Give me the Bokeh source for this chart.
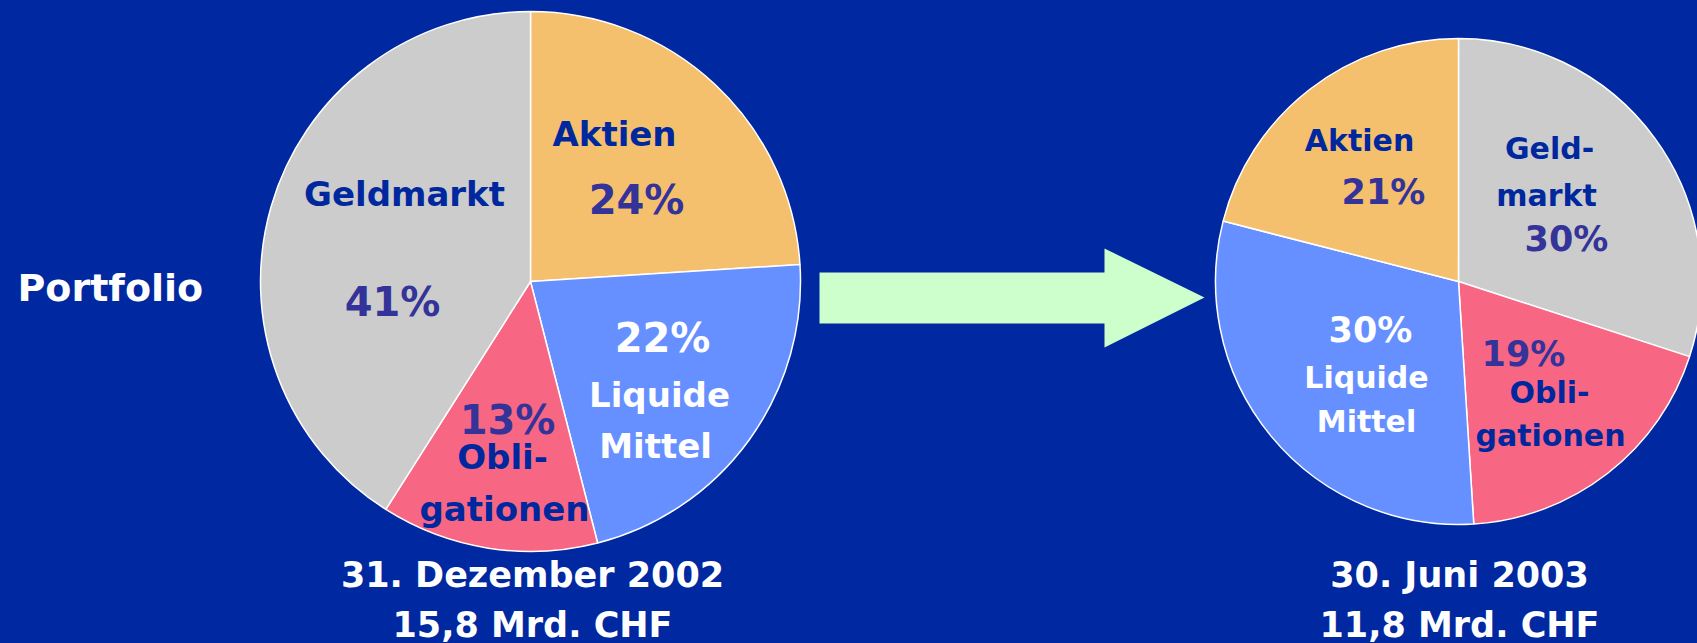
import math
from bokeh.plotting import figure
from bokeh.models import ColumnDataSource, Range1d
from bokeh.core.properties import value
from bokeh.embed import file_html
from bokeh.resources import INLINE

# ---------------- data ----------------
left_categories = ["Aktien", "Liquide Mittel", "Obligationen", "Geldmarkt"]
left_values = [24, 22, 13, 41]
left_title = ["31. Dezember 2002", "15,8 Mrd. CHF"]

right_categories = ["Geldmarkt", "Obligationen", "Liquide Mittel", "Aktien"]
right_values = [30, 19, 30, 21]
right_title = ["30. Juni 2003", "11,8 Mrd. CHF"]

row_label = "Portfolio"

# ---------------- styles ----------------
BG = "#0028A0"
CAT_COLORS = {"Aktien": "#F5C06E", "Geldmarkt": "#CCCCCC",
              "Liquide Mittel": "#6690FF", "Obligationen": "#F76683"}
NAME_COLOR = {"Aktien": "#00289E", "Geldmarkt": "#00289E",
              "Liquide Mittel": "#FFFFFF", "Obligationen": "#00289E"}
PCT_COLOR = {"Aktien": "#333399", "Geldmarkt": "#333399",
             "Liquide Mittel": "#FFFFFF", "Obligationen": "#333399"}
FONT = value("DejaVu Sans")

# pie geometry (page pixels)
LEFT_PIE = dict(cx=530, cy=281, r=270, name_size="34px", pct_size="40px")
RIGHT_PIE = dict(cx=1458, cy=281, r=243, name_size="30px", pct_size="35px")

# label layout: category -> list of (line text or None for percentage, dx, dy)
LEFT_LAYOUT = {
    "Aktien": [("Aktien", 84, -148), (None, 106, -82)],
    "Geldmarkt": [("Geldmarkt", -126, -88), (None, -138, 20)],
    "Liquide Mittel": [(None, 132, 56), ("Liquide", 129, 113), ("Mittel", 125, 164)],
    "Obligationen": [(None, -23, 138), ("Obli-", -28, 175), ("gationen", -26, 227)],
}
RIGHT_LAYOUT = {
    "Aktien": [("Aktien", -99, -141), (None, -75, -90)],
    "Geldmarkt": [("Geld-", 91, -133), ("markt", 88, -86), (None, 108, -43)],
    "Liquide Mittel": [(None, -88, 48), ("Liquide", -92, 96), ("Mittel", -92, 140)],
    "Obligationen": [(None, 65, 72), ("Obli-", 91, 111), ("gationen", 92, 154)],
}

W, H = 1697, 643
p = figure(width=W, height=H, x_range=Range1d(0, W), y_range=Range1d(H, 0),
           output_backend="svg", toolbar_location=None, min_border=0,
           background_fill_color=BG, border_fill_color=BG, outline_line_color=None)
p.axis.visible = False
p.grid.visible = False
p.styles = {"background-color": BG}

texts = dict(x=[], y=[], text=[], color=[], size=[])


def add_text(x, y, t, c, s):
    texts["x"].append(x)
    texts["y"].append(y)
    texts["text"].append(t)
    texts["color"].append(c)
    texts["size"].append(s)


def draw_pie(cats, vals, geo, layout):
    total = float(sum(vals))
    starts, ends = [], []
    cum = 0.0
    for v in vals:
        a0 = math.pi / 2 - 2 * math.pi * cum / total
        cum += v
        a1 = math.pi / 2 - 2 * math.pi * cum / total
        starts.append(a0)
        ends.append(a1)
    src = ColumnDataSource(dict(
        x=[geo["cx"]] * len(vals), y=[geo["cy"]] * len(vals),
        start=starts, end=ends, color=[CAT_COLORS[c] for c in cats]))
    p.wedge(x="x", y="y", radius=geo["r"], start_angle="start", end_angle="end",
            direction="clock", fill_color="color", line_color="white",
            line_width=1.5, source=src)
    for c, v in zip(cats, vals):
        for line, dx, dy in layout[c]:
            if line is None:
                add_text(geo["cx"] + dx, geo["cy"] + dy, f"{v}%", PCT_COLOR[c], geo["pct_size"])
            else:
                add_text(geo["cx"] + dx, geo["cy"] + dy, line, NAME_COLOR[c], geo["name_size"])


draw_pie(left_categories, left_values, LEFT_PIE, LEFT_LAYOUT)
draw_pie(right_categories, right_values, RIGHT_PIE, RIGHT_LAYOUT)

# arrow between pies
arrow_x = [819, 1104, 1104, 1204, 1104, 1104, 819]
arrow_y = [272, 272, 248, 297, 347, 323, 323]
p.patch(arrow_x, arrow_y, fill_color="#CCFFCC", line_color=None)

# titles under pies
add_text(LEFT_PIE["cx"] + 2, 574, left_title[0], "#FFFFFF", "35px")
add_text(LEFT_PIE["cx"] + 2, 624, left_title[1], "#FFFFFF", "35px")
add_text(RIGHT_PIE["cx"] + 1, 574, right_title[0], "#FFFFFF", "35px")
add_text(RIGHT_PIE["cx"] + 1, 624, right_title[1], "#FFFFFF", "35px")

tsrc = ColumnDataSource(texts)
p.text(x="x", y="y", text="text", text_color="color", text_font_size="size",
       text_font=FONT, text_font_style="bold", text_align="center",
       text_baseline="middle", source=tsrc)

p.text(x=[17], y=[287], text=[row_label], text_color="#FFFFFF", text_font_size="38px",
       text_font=FONT, text_font_style="bold", text_align="left", text_baseline="middle")

open("out.html", "w").write(file_html(p, INLINE))
